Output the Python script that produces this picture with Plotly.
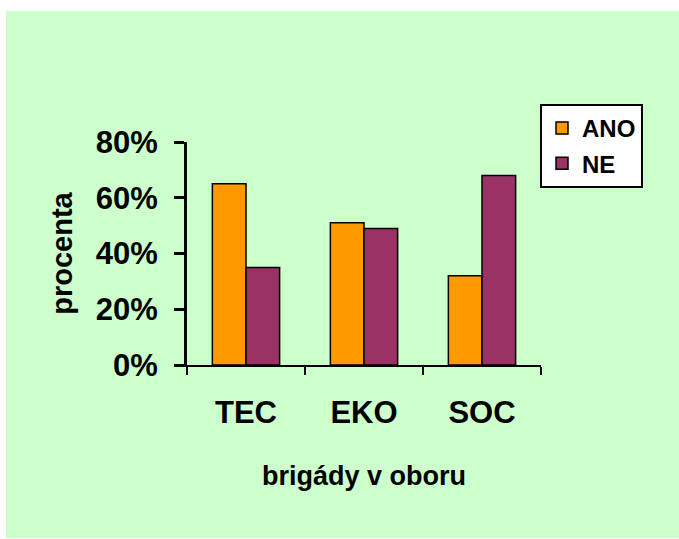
import plotly.graph_objects as go

# data
obory = ["TEC", "EKO", "SOC"]
ano = [0.65, 0.51, 0.32]
ne = [0.35, 0.49, 0.68]
y_ticks = [0, 0.2, 0.4, 0.6, 0.8]
y_labels = ["0%", "20%", "40%", "60%", "80%"]

W, H = 679, 539
# plot area in page pixels
L, R, T, B = 187, 541, 142, 365
pw, ph = R - L, B - T

def px_x(p):
    return (p - L) / pw

def px_y(p):
    return (B - p) / ph

FONT = "Liberation Sans, Arial, sans-serif"

fig = go.Figure()
fig.add_trace(go.Bar(
    x=obory, y=ano, name="ANO", legendgroup="a",
    marker=dict(color="#FF9900", line=dict(color="black", width=1.5)),
))
fig.add_trace(go.Bar(
    x=obory, y=ne, name="NE", legendgroup="b",
    marker=dict(color="#993366", line=dict(color="black", width=1.5)),
))

# green chart area background
fig.add_shape(
    type="rect", xref="paper", yref="paper", layer="below",
    x0=px_x(6), x1=px_x(690), y0=px_y(538), y1=px_y(11),
    fillcolor="#CCFFCC", line_width=0,
)

fig.update_layout(
    width=W, height=H,
    margin=dict(l=L, r=W - R, t=T, b=H - B, autoexpand=False),
    paper_bgcolor="white",
    plot_bgcolor="rgba(0,0,0,0)",
    barmode="group",
    bargap=0.43,
    bargroupgap=0,
    font=dict(family=FONT, color="black"),
    legend=dict(
        x=px_x(540), y=px_y(104), xanchor="left", yanchor="top",
        bgcolor="white", bordercolor="black", borderwidth=2,
        font=dict(size=24, weight="bold"),
        traceorder="grouped", tracegroupgap=1,
    ),
    xaxis=dict(
        range=[-0.5, 2.5],
        showline=True, linecolor="black", linewidth=2,
        ticks="outside", tickson="boundaries", ticklen=8, tickwidth=2, tickcolor="black",
        tickfont=dict(size=31, weight="bold"),
        ticklabelstandoff=19,
        showgrid=False, zeroline=False,
        title=dict(text="brigády v oboru", font=dict(size=27, weight="bold"), standoff=37),
        automargin=False,
    ),
    yaxis=dict(
        range=[0, 0.8],
        tickvals=y_ticks, ticktext=y_labels,
        showline=True, linecolor="black", linewidth=3,
        ticks="outside", ticklen=10, tickwidth=3, tickcolor="black",
        tickfont=dict(size=31, weight="bold"),
        ticklabelstandoff=10,
        showgrid=False, zeroline=False,
        title=dict(text="procenta", font=dict(size=29, weight="bold"), standoff=15),
        automargin=False,
    ),
)

# drop the default body margin so the figure fills the window exactly
fig.write_html(
    "out.html",
    config={"displayModeBar": False},
    post_script="document.body.style.margin='0';",
)
